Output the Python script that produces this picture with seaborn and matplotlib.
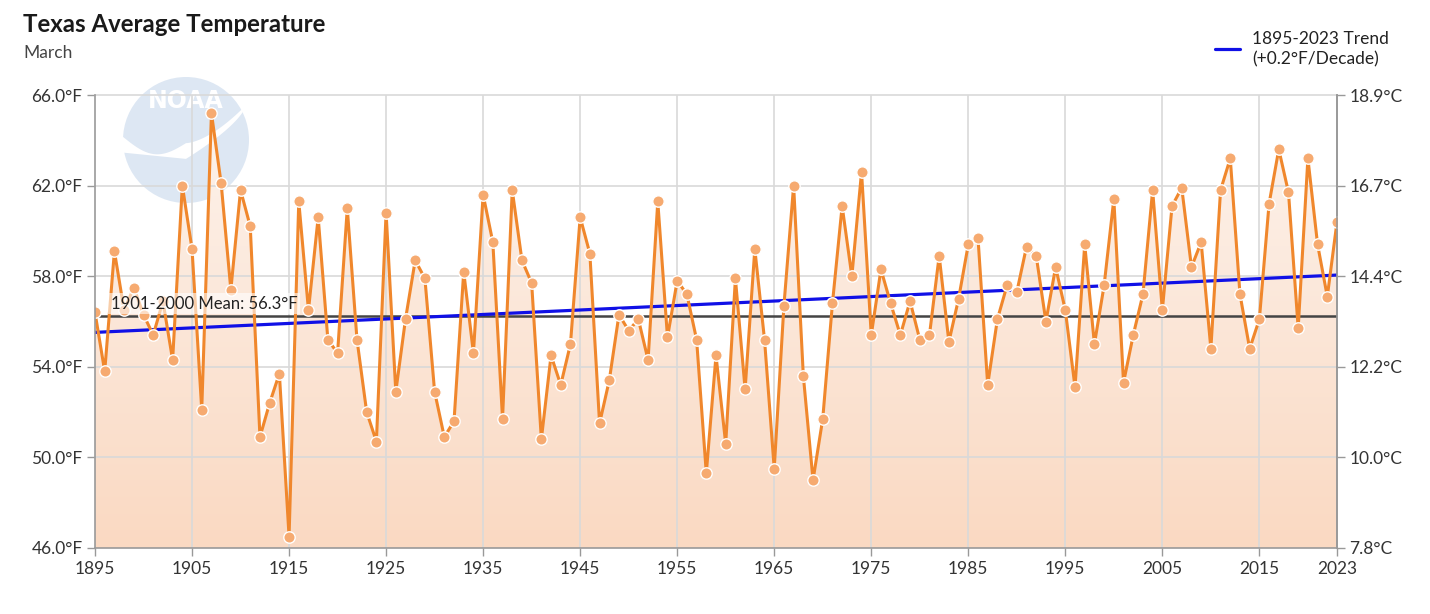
import numpy as np
import pandas as pd
import matplotlib
matplotlib.use("Agg")
import matplotlib.pyplot as plt
import seaborn as sns
from matplotlib.lines import Line2D
from matplotlib.patches import Circle, Polygon
from matplotlib.colors import LinearSegmentedColormap

# ---------------- data ----------------
years = list(range(1895, 2024))
temps_f = [
    56.4, 53.8, 59.1, 56.5, 57.5, 56.3, 55.4, 56.9, 54.3, 62.0,   # 1895-1904
    59.2, 52.1, 65.2, 62.1, 57.4, 61.8, 60.2, 50.9, 52.4, 53.7,   # 1905-1914
    46.5, 61.3, 56.5, 60.6, 55.2, 54.6, 61.0, 55.2, 52.0, 50.7,   # 1915-1924
    60.8, 52.9, 56.1, 58.7, 57.9, 52.9, 50.9, 51.6, 58.2, 54.6,   # 1925-1934
    61.6, 59.5, 51.7, 61.8, 58.7, 57.7, 50.8, 54.5, 53.2, 55.0,   # 1935-1944
    60.6, 59.0, 51.5, 53.4, 56.3, 55.6, 56.1, 54.3, 61.3, 55.3,   # 1945-1954
    57.8, 57.2, 55.2, 49.3, 54.5, 50.6, 57.9, 53.0, 59.2, 55.2,   # 1955-1964
    49.5, 56.7, 62.0, 53.6, 49.0, 51.7, 56.8, 61.1, 58.0, 62.6,   # 1965-1974
    55.4, 58.3, 56.8, 55.4, 56.9, 55.2, 55.4, 58.9, 55.1, 57.0,   # 1975-1984
    59.4, 59.7, 53.2, 56.1, 57.6, 57.3, 59.3, 58.9, 56.0, 58.4,   # 1985-1994
    56.5, 53.1, 59.4, 55.0, 57.6, 61.4, 53.3, 55.4, 57.2, 61.8,   # 1995-2004
    56.5, 61.1, 61.9, 58.4, 59.5, 54.8, 61.8, 63.2, 57.2, 54.8,   # 2005-2014
    56.1, 61.2, 63.6, 61.7, 55.7, 63.2, 59.4, 57.1, 60.4,         # 2015-2023
]
trend_years = [1895, 2023]
trend_vals = [55.52, 58.05]
mean_value = 56.25
mean_label = "1901-2000 Mean: 56.3°F"
trend_label = "1895-2023 Trend\n(+0.2°F/Decade)"
title = "Texas Average Temperature"
subtitle = "March"
x_ticks = [1895, 1905, 1915, 1925, 1935, 1945, 1955, 1965, 1975, 1985, 1995, 2005, 2015, 2023]
y_ticks = [46, 50, 54, 58, 62, 66]

df = pd.DataFrame({"year": years, "temp": temps_f})

# ---------------- style ----------------
sns.set_theme(style="white")
plt.rcParams["font.family"] = ["Lato", "DejaVu Sans"]

W, H = 1430, 614
fig = plt.figure(figsize=(W / 100, H / 100), dpi=100)
fig.patch.set_facecolor("white")

# NOAA watermark logo (behind the plot)
cx, cy, r = 186, 140, 63
lax = fig.add_axes([(cx - r) / W, 1 - (cy + r) / H, 2 * r / W, 2 * r / H], zorder=0)
lax.set_xlim(-1, 1)
lax.set_ylim(-1, 1)
lax.axis("off")
lax.add_patch(Circle((0, 0), 1.0, color="#dde7f3", lw=0))
t = np.linspace(0, 1, 40)
wing = np.concatenate([
    np.column_stack([-1.0 + 1.0 * t, 0.05 - 0.45 * np.sin(np.pi * t) * 0.5 - 0.1 * t]),
    np.column_stack([0.0 + 0.95 * t, -0.05 + 0.6 * t ** 1.6]),
    np.column_stack([0.95 - 0.95 * t, 0.55 - 0.85 * t ** 0.7]),
    np.column_stack([0.0 - 1.0 * t, -0.3 + 0.1 * t]),
])
lax.add_patch(Polygon(wing, closed=True, color="white", lw=0))
lax.text(0, 0.62, "NOAA", color="white", ha="center", va="center",
         fontsize=17, fontweight="bold", family=["DejaVu Sans"])

ax = fig.add_axes([95 / W, 1 - 548 / H, (1337 - 95) / W, (548 - 95) / H], zorder=1)
ax.set_facecolor("none")

# gradient area under the line
poly = ax.fill_between(df["year"], df["temp"], 46, color="none", lw=0)
cmap = LinearSegmentedColormap.from_list("peach", ["#fad9c2", "#fdf4ee"])
grad = np.linspace(0, 1, 256).reshape(-1, 1)
im = ax.imshow(grad, extent=[1895, 2023, 46, 66], aspect="auto", cmap=cmap,
               origin="lower", zorder=1, interpolation="bicubic")
im.set_clip_path(poly.get_paths()[0], transform=ax.transData)

# grid
for xv in x_ticks[1:-1]:
    ax.axvline(xv, color="#d9d9d9", lw=1.2, zorder=1.5)
for yv in y_ticks[1:]:
    ax.axhline(yv, color="#d9d9d9", lw=1.2, zorder=1.5, clip_on=False)

# mean line and trend
ax.axhline(mean_value, color="#444444", lw=1.8, zorder=3)
sns.lineplot(x=trend_years, y=trend_vals, ax=ax, color="#1010e6", lw=2.3, zorder=3.5)

# main series
sns.lineplot(data=df, x="year", y="temp", ax=ax, color="#f0872c", lw=2.2,
             marker="o", markersize=8.2, markerfacecolor="#f6aa70",
             markeredgecolor="white", markeredgewidth=1.0, zorder=4)

ax.annotate(mean_label, xy=(1896.6, mean_value), xytext=(0, 3), textcoords="offset points",
            fontsize=12, color="#222222", ha="left", va="bottom", zorder=5,
            bbox=dict(boxstyle="square,pad=0.15", fc="white", ec="none", alpha=0.6))

ax.set_xlim(1895, 2023)
ax.set_ylim(46, 66)
ax.set_xticks(x_ticks)
ax.set_xticklabels([str(v) for v in x_ticks])
ax.set_yticks(y_ticks)
ax.set_yticklabels([f"{v:.1f}°F" for v in y_ticks])
ax.set_xlabel("")
ax.set_ylabel("")
ax.tick_params(axis="both", labelsize=12.5, colors="#333333", length=6, width=1,
               direction="out", bottom=True, left=True, pad=3)
ax.tick_params(axis="both", color="#999999")
ax.spines["top"].set_visible(False)
for side in ["left", "bottom", "right"]:
    ax.spines[side].set_color("#999999")
    ax.spines[side].set_linewidth(1.2)
ax.spines["left"].set_zorder(6)

ax2 = ax.twinx()
ax2.set_ylim(46, 66)
ax2.set_yticks(y_ticks)
ax2.set_yticklabels([f"{(v - 32) * 5 / 9:.1f}°C" for v in y_ticks])
ax2.tick_params(axis="y", labelsize=12.5, colors="#333333", length=6, width=1, direction="out", pad=3)
ax2.tick_params(axis="y", color="#999999")
ax2.grid(False)
for side in ["top", "left", "bottom"]:
    ax2.spines[side].set_visible(False)
ax2.spines["right"].set_color("#999999")
ax2.spines["right"].set_linewidth(1.2)

# titles
fig.text(23 / W, 1 - 25 / H, title, fontsize=17.3, fontweight="bold", color="#1a1a1a",
         ha="left", va="center")
fig.text(23 / W, 1 - 53 / H, subtitle, fontsize=12.5, color="#444444", ha="left", va="center")

# legend
fig.add_artist(Line2D([1215 / W, 1240 / W], [1 - 49 / H, 1 - 49 / H], color="#1010e6", lw=2.3))
fig.text(1252 / W, 1 - 49 / H, trend_label, fontsize=12.5, color="#222222",
         ha="left", va="center", linespacing=1.35)

fig.savefig("out.png", dpi=100)
